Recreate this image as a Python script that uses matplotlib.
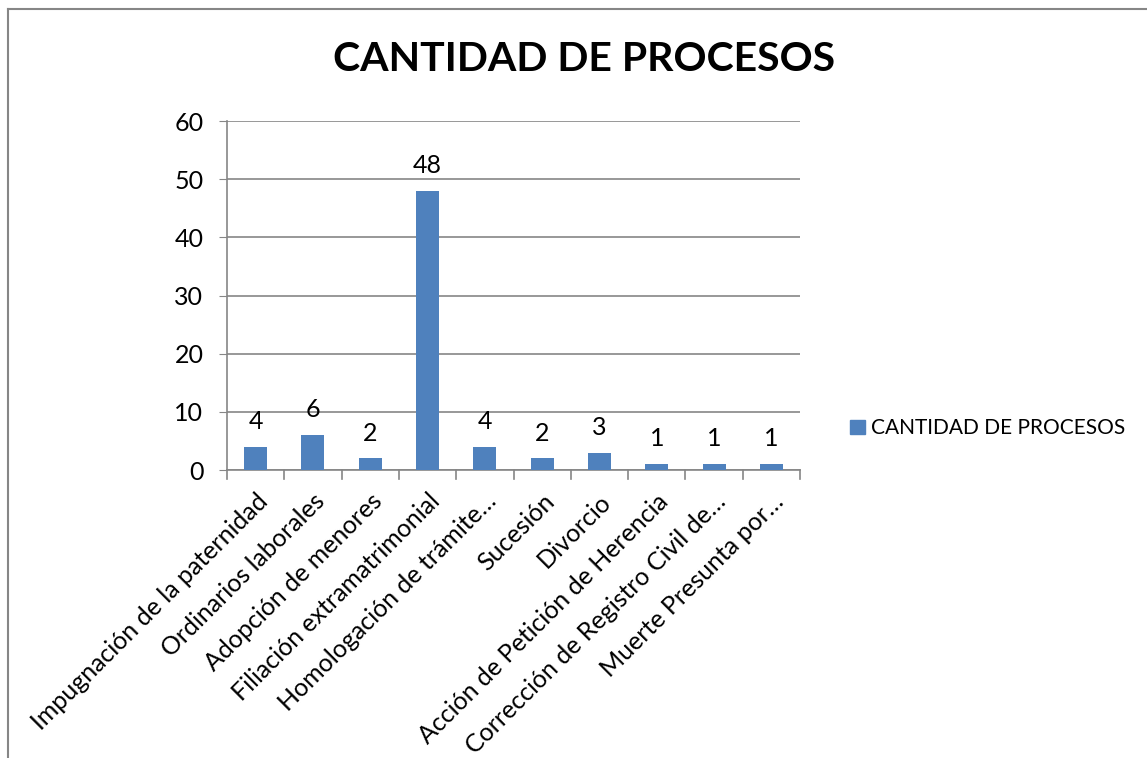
import matplotlib
matplotlib.use("Agg")
import matplotlib.pyplot as plt
from matplotlib.lines import Line2D
from matplotlib.patches import Patch

# Cantidad de procesos por tipo

categorias = [
    "Impugnación de la paternidad",
    "Ordinarios laborales",
    "Adopción de menores",
    "Filiación extramatrimonial",
    "Homologación de trámite…",
    "Sucesión",
    "Divorcio",
    "Acción de Petición de Herencia",
    "Corrección de Registro Civil de…",
    "Muerte Presunta por…",
]
cantidades = [4, 6, 2, 48, 4, 2, 3, 1, 1, 1]
yticks = [0, 10, 20, 30, 40, 50, 60]

plt.rcParams["font.family"] = ["Lato", "DejaVu Sans"]
gris = "#868686"
azul = "#4f81bd"

fig = plt.figure(figsize=(11.47, 7.58), dpi=100)
ax = fig.add_axes([0.1979, 0.3799, 0.4996, 0.4604])

x = list(range(len(categorias)))
ax.bar(x, cantidades, width=0.4, color=azul, zorder=3)
for xi, v in zip(x, cantidades):
    ax.annotate(str(v), (xi, v), xytext=(0, 10), textcoords="offset points",
                ha="center", va="bottom", fontsize=18)

ax.set_xlim(-0.5, len(categorias) - 0.5)
ax.set_ylim(0, 60)
ax.set_yticks(yticks)
ax.tick_params(axis="y", length=6, color=gris, labelsize=18, pad=11)
ax.yaxis.grid(True, color=gris, linewidth=1.2, zorder=0)

ax.set_xticks(x)
ax.set_xticklabels(categorias, rotation=45, ha="right", va="top",
                   rotation_mode="anchor", fontsize=18)
ax.tick_params(axis="x", length=0, pad=14)
# marcas entre categorias
for b in range(len(categorias) + 1):
    ax.plot([b - 0.5, b - 0.5], [0, -0.025], transform=ax.get_xaxis_transform(),
            color=gris, linewidth=1.2, clip_on=False)

for s in ["top", "right"]:
    ax.spines[s].set_visible(False)
for s in ["left", "bottom"]:
    ax.spines[s].set_color(gris)
    ax.spines[s].set_linewidth(1.2)

fig.text(0.509, 0.921, "CANTIDAD DE PROCESOS", ha="center", va="center",
         fontsize=29.5, fontweight="bold")

fig.legend(handles=[Patch(color=azul, label="CANTIDAD DE PROCESOS")],
           loc="center left", bbox_to_anchor=(0.725, 0.435), frameon=False,
           fontsize=15, handlelength=0.7, handleheight=0.7, handletextpad=0.3)

# marco del grafico
fig.add_artist(Line2D([0.007, 1.0], [0.988, 0.988], color=gris, linewidth=1.5))
fig.add_artist(Line2D([0.007, 0.007], [0.0, 0.988], color=gris, linewidth=1.5))

fig.savefig("out.png", dpi=100)
